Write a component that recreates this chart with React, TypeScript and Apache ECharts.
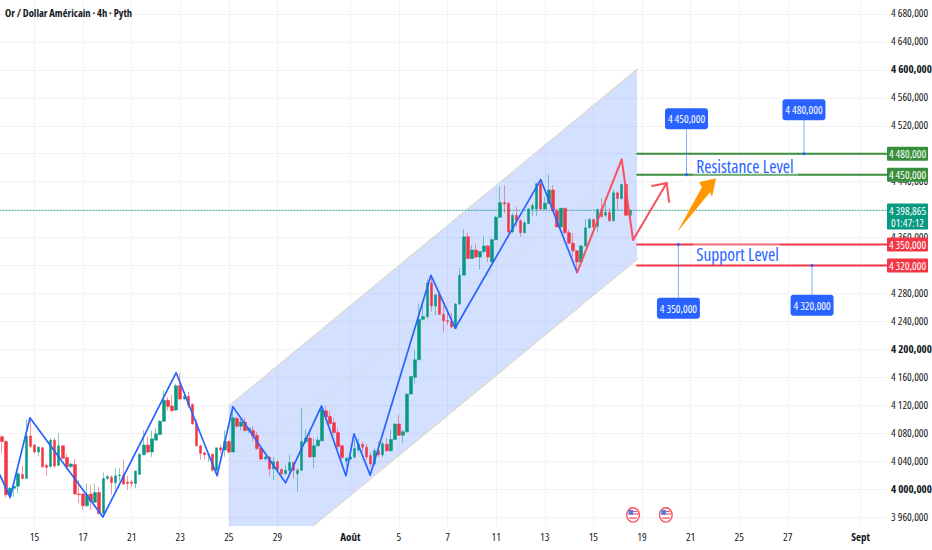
import React, { useEffect, useRef } from "react";
import * as echarts from "echarts";

const FONT = "'Open Sans','Liberation Sans',sans-serif";
const TITLE = "Or / Dollar Américain · 4h · Pyth";
const SLOT_COUNT = 219;

const tickIndexes = [8, 20, 32, 44, 56, 68, 86, 98, 110, 122, 134, 146, 158, 170, 182, 194, 212];
const tickLabels = ["15", "17", "21", "23", "25", "29", "Août", "5", "7", "11", "13", "15", "19", "21", "25", "27", "Sept"];
const priceTicks = [3960, 4000, 4040, 4080, 4120, 4160, 4200, 4240, 4280, 4320, 4360, 4400, 4440, 4480, 4520, 4560, 4600, 4640, 4680];
const priceLabels = [3960, 4000, 4040, 4080, 4120, 4160, 4200, 4240, 4280, 4360, 4440, 4520, 4560, 4600, 4640, 4680];
const boldPrices = [4000, 4200, 4600];

const opens = [4075,4068,3992,4001,4004,4021,4015,4076,4063,4053,4059,4034,4032,4070,4034,4062,4045,4032,4035,3993,3993,3976,3993,3981,3995,3965,4015,4017,4009,4019,4020,4010,4010,4008,4021,4049,4063,4053,4070,4078,4097,4127,4119,4113,4148,4129,4133,4121,4094,4062,4052,4049,4050,4027,4059,4056,4068,4053,4101,4090,4096,4084,4084,4077,4058,4043,4046,4029,4039,4028,4022,4027,4038,4022,4027,4068,4073,4046,4062,4069,4112,4104,4095,4081,4062,4040,4043,4046,4056,4064,4060,4048,4036,4055,4049,4064,4055,4071,4093,4077,4082,4136,4160,4185,4243,4247,4295,4262,4279,4250,4241,4240,4230,4265,4306,4361,4330,4342,4332,4340,4348,4325,4357,4389,4410,4409,4368,4392,4384,4367,4380,4401,4401,4437,4401,4409,4428,4398,4375,4402,4367,4352,4341,4325,4348,4374,4386,4376,4400,4392,4396,4384,4424,4416,4436,4392];
const closes = [4068,3992,4001,4004,4022,4015,4076,4061,4053,4060,4032,4031,4070,4033,4062,4044,4032,4036,3993,3992,3976,3992,3982,3995,3965,4015,4018,4009,4019,4020,4007,4008,4008,4026,4050,4063,4053,4072,4079,4097,4127,4118,4112,4148,4129,4133,4120,4093,4062,4051,4049,4050,4027,4059,4056,4068,4053,4102,4090,4096,4084,4087,4076,4058,4043,4046,4029,4039,4028,4022,4027,4038,4027,4027,4068,4073,4046,4062,4070,4113,4103,4094,4081,4061,4045,4044,4046,4058,4064,4060,4046,4036,4055,4049,4065,4055,4071,4093,4077,4082,4136,4161,4185,4243,4247,4295,4262,4278,4250,4241,4240,4232,4265,4306,4361,4330,4342,4332,4340,4348,4332,4357,4389,4410,4408,4368,4392,4384,4367,4381,4401,4406,4437,4401,4409,4428,4398,4375,4402,4367,4352,4341,4325,4348,4374,4386,4375,4400,4390,4396,4384,4424,4416,4436,4392,4398.865];
const lows = [4051,3988,3987,3989,3994,4014,4015,4058,4051,4047,4030,4019,4032,4030,4033,4043,4027,4030,3992,3980,3970,3974,3970,3980,3964,3965,4013,3992,3999,4011,4006,3999,4003,4001,4020,4049,4051,4046,4070,4077,4096,4112,4111,4112,4127,4127,4116,4092,4061,4042,4042,4039,4025,4020,4051,4046,4051,4053,4088,4084,4082,4080,4068,4056,4041,4041,4019,4013,4025,4020,4020,4020,4015,3996,4026,4065,4045,4030,4061,4068,4099,4092,4077,4058,4042,4032,4042,4043,4053,4053,4042,4032,4034,4046,4046,4053,4053,4070,4076,4066,4081,4135,4151,4185,4242,4244,4254,4249,4249,4224,4235,4230,4229,4263,4306,4329,4329,4330,4314,4337,4325,4325,4356,4388,4395,4359,4367,4375,4361,4366,4379,4391,4391,4398,4400,4408,4397,4375,4375,4365,4351,4333,4313,4324,4347,4373,4368,4368,4389,4389,4383,4383,4400,4414,4391,4391];
const highs = [4077,4070,4003,4008,4025,4034,4099,4099,4065,4061,4061,4037,4073,4073,4080,4063,4051,4037,4043,4013,3994,4008,4006,4008,4003,4024,4020,4020,4030,4030,4042,4019,4013,4026,4051,4084,4075,4084,4087,4099,4142,4132,4135,4151,4166,4139,4139,4123,4100,4063,4053,4051,4051,4059,4064,4084,4070,4118,4104,4100,4103,4089,4090,4082,4061,4047,4047,4046,4042,4030,4034,4049,4039,4030,4116,4085,4085,4073,4075,4120,4118,4112,4101,4087,4063,4046,4056,4070,4073,4068,4065,4053,4058,4068,4068,4073,4085,4094,4106,4085,4136,4161,4199,4266,4266,4300,4304,4278,4282,4263,4252,4252,4266,4316,4372,4367,4349,4351,4340,4362,4349,4359,4391,4433,4435,4411,4395,4404,4386,4383,4402,4409,4438,4440,4418,4450,4435,4402,4402,4402,4371,4366,4342,4349,4386,4387,4387,4402,4416,4409,4402,4429,4426,4437,4437,4400];

const currentPrice = 4398.865;
const currentPriceLabel = "4 398,865";
const countdownLabel = "01:47:12";

const blueZigzag = [[-0.5,4020],[2,3988],[6.9,4102],[24.9,3960],[43,4166.5],[53.1,4019],[57,4118],[70,4009],[78.9,4119],[84.9,4019],[86.9,4079],[90.9,4020],[105.9,4306],[111.9,4230.5],[133,4443],[142,4310]];
const redZigzag = [[142,4310],[153,4472],[155.8,4356.4],[164.1,4438]];
const redArrowHead = [[160.5,4433.7],[164.1,4438],[164.7,4411]];
const orangeArrow = [[166.7,4368],[172.8,4432],[172.1,4439],[176.3,4445],[175.3,4418],[174.8,4425]];
const channelArea = [[56,4119],[156.8,4601],[156.8,4329],[76.8,3947],[56,3947]];
const channelTopEdge = [[56,4119],[156.8,4601]];
const channelBottomEdge = [[156.8,4329],[76.8,3947]];
const channelMiddle = [[56,4033],[156.8,4465]];

const resistanceLevels = [4480, 4450];
const supportLevels = [4350, 4320];
const levelStartBar = 156.8;
const levelEndBar = 218.5;
const calloutPrices = [4450, 4480, 4350, 4320];
const calloutBars = [169, 198, 167, 200];
const calloutEnds = [4515, 4528, 4274, 4278];
const eventBars = [155.8, 163.9];
const eventPrice = 3963;

const GREEN = "#089981";
const RED = "#F23645";
const BLUE = "#2962FF";
const fmt = (v: number) => `${Math.floor(v / 1000)} ${String(Math.round(v % 1000)).padStart(3, "0")},000`;

const categories = Array.from({ length: SLOT_COUNT }, (_, i) => {
  const k = tickIndexes.indexOf(i);
  return k >= 0 ? tickLabels[k] : "";
});
const candles = opens.map((o, i) => [o, closes[i], lows[i], highs[i]]);

const shapeSeries = (z: number, build: (api: any) => any) => ({
  type: "custom",
  xAxisIndex: 1,
  yAxisIndex: 0,
  z,
  silent: true,
  clip: false,
  data: [[0, 0]],
  encode: { x: 0, y: 1 },
  renderItem: (_: any, api: any) => build(api),
});
const pts = (api: any, list: number[][]) => list.map((p) => api.coord(p));
const lineSeries = (data: number[][], color: string, width: number, z: number, type: any = "solid", opacity = 1) => ({
  type: "line",
  xAxisIndex: 1,
  yAxisIndex: 0,
  data,
  symbol: "none",
  silent: true,
  z,
  lineStyle: { color, width, type, opacity, cap: "round", join: "round" },
});

const priceTag = (api: any, price: number, color: string, text: string) => {
  const y = api.coord([0, price])[1];
  return [
    { type: "rect", shape: { x: 887, y: y - 7, width: 41, height: 14, r: 1 }, style: { fill: color } },
    { type: "text", style: { x: 907.5, y, text, fill: "#fff", font: `11px ${FONT}`, align: "center", verticalAlign: "middle" } },
  ];
};

const option: any = {
  animation: false,
  backgroundColor: "#ffffff",
  title: { text: TITLE, left: 5, top: 7, padding: 0, textStyle: { color: "#131722", fontFamily: FONT, fontSize: 10.5, fontWeight: "bold" } },
  grid: { left: 0, top: 0, width: 887, height: 527, outerBoundsMode: "none" },
  xAxis: [
    {
      type: "category",
      data: categories,
      axisLine: { show: false },
      axisTick: { show: false, alignWithLabel: true },
      splitLine: { show: false },
      axisLabel: {
        interval: (_: number, v: string) => v !== "",
        color: "#131722",
        fontFamily: FONT,
        fontSize: 11,
        margin: 4,
        hideOverlap: false,
        formatter: (v: string) => (v === "Août" || v === "Sept" ? `{b|${v}}` : v),
        rich: { b: { fontFamily: FONT, fontSize: 11, fontWeight: "bold", color: "#131722" } },
      },
    },
    {
      type: "value",
      min: -0.5,
      max: SLOT_COUNT - 0.5,
      axisLine: { show: false },
      axisTick: { show: false, customValues: tickIndexes },
      axisLabel: { show: false, customValues: tickIndexes },
      splitLine: { show: true, lineStyle: { color: "#F2F3F6", width: 1 } },
    },
  ],
  yAxis: {
    type: "value",
    position: "right",
    min: 3945.7,
    max: 4700,
    axisLine: { show: false },
    axisTick: { show: false, customValues: priceTicks },
    splitLine: { show: true, lineStyle: { color: "#F2F3F6", width: 1 } },
    axisLabel: {
      customValues: priceLabels,
      color: "#131722",
      fontFamily: FONT,
      fontSize: 11,
      margin: 4,
      padding: [0, 0, 2, 0],
      formatter: (v: number) => (boldPrices.includes(v) ? `{b|${fmt(v)}}` : fmt(v)),
      rich: { b: { fontFamily: FONT, fontSize: 11, fontWeight: "bold", color: "#131722" } },
    },
  },
  series: [
    shapeSeries(1, (api) => ({
      type: "polygon",
      shape: { points: pts(api, channelArea) },
      style: { fill: "rgba(41,98,255,0.2)" },
    })),
    lineSeries(channelTopEdge, "#DDD9D0", 1.2, 1),
    lineSeries(channelBottomEdge, "#DDD9D0", 1.2, 1),
    lineSeries(channelMiddle, "#D8D4CC", 1, 1, "dotted", 0.8),
    {
      type: "candlestick",
      xAxisIndex: 0,
      yAxisIndex: 0,
      data: candles,
      barWidth: 3,
      z: 2,
      silent: true,
      itemStyle: {
        color: GREEN,
        color0: RED,
        borderColor: "rgba(8,153,129,0.5)",
        borderColor0: "rgba(242,54,69,0.5)",
        borderWidth: 1,
      },
    },
    lineSeries([[-0.5, currentPrice], [SLOT_COUNT - 0.5, currentPrice]], GREEN, 1, 2, [1, 2], 0.8),
    lineSeries(blueZigzag, BLUE, 1.7, 3),
    lineSeries(redZigzag, "#F7525F", 2, 3),
    lineSeries(redArrowHead, "#F7525F", 2, 3),
    ...resistanceLevels.map((p) => lineSeries([[levelStartBar, p], [levelEndBar, p]], "#388E3C", 2, 3)),
    ...supportLevels.map((p) => lineSeries([[levelStartBar, p], [levelEndBar, p]], RED, 2, 3)),
    shapeSeries(4, (api) => ({
      type: "polygon",
      shape: { points: pts(api, orangeArrow) },
      style: { fill: "#FF9800" },
    })),
    shapeSeries(5, (api) => ({
      type: "group",
      children: [
        ...[[171.4, 4463, "Resistance Level", 105], [171.4, 4337, "Support Level", 87]].flatMap(([b, p, t, w]: any) => {
          const [x, y] = api.coord([b, p]);
          return [
            { type: "rect", shape: { x: x - 3, y: y - 10, width: w, height: 20 }, style: { fill: "rgba(255,255,255,0.3)" } },
            { type: "text", style: { x, y, text: t, fill: BLUE, font: `17.5px ${FONT}`, align: "left", verticalAlign: "middle" } },
          ];
        }),
      ],
    })),
    shapeSeries(6, (api) => ({
      type: "group",
      children: calloutPrices.flatMap((price, i) => {
        const [x, y0] = api.coord([calloutBars[i], price]);
        const y1 = api.coord([calloutBars[i], calloutEnds[i]])[1];
        const boxY = y1 < y0 ? y1 - 21 : y1;
        return [
          { type: "line", shape: { x1: x, y1: y0, x2: x, y2: y1 }, style: { stroke: "rgba(41,98,255,0.55)", lineWidth: 1 } },
          { type: "circle", shape: { cx: x, cy: y0, r: 1.5 }, style: { fill: BLUE } },
          { type: "rect", shape: { x: x - 21.5, y: boxY, width: 43, height: 21, r: 3 }, style: { fill: BLUE } },
          { type: "text", style: { x, y: boxY + 10.5, text: fmt(price), fill: "#fff", font: `11px ${FONT}`, align: "center", verticalAlign: "middle" } },
        ];
      }),
    })),
    shapeSeries(7, (api) => ({
      type: "group",
      children: eventBars.flatMap((bar) => {
        const [x, y] = api.coord([bar, eventPrice]);
        return [
          { type: "ellipse", shape: { cx: x, cy: y, rx: 6.3, ry: 7.2 }, style: { fill: "#fff", stroke: "#F7525F", lineWidth: 1.4 } },
          { type: "rect", shape: { x: x - 4.5, y: y - 5, width: 4.5, height: 5 }, style: { fill: "#4E7DE8" } },
          { type: "rect", shape: { x: x, y: y - 4, width: 4.5, height: 1.2 }, style: { fill: "#F7525F" } },
          { type: "rect", shape: { x: x, y: y - 1.5, width: 5, height: 1.2 }, style: { fill: "#F7525F" } },
          { type: "rect", shape: { x: x - 4, y: y + 2.5, width: 8, height: 1.3 }, style: { fill: "#F7525F" } },
        ];
      }),
    })),
    shapeSeries(8, (api) => ({
      type: "group",
      children: [
        ...resistanceLevels.flatMap((p) => priceTag(api, p, "#388E3C", fmt(p))),
        ...supportLevels.flatMap((p) => priceTag(api, p, RED, fmt(p))),
        (() => {
          const y = api.coord([0, currentPrice])[1];
          return {
            type: "group",
            children: [
              { type: "rect", shape: { x: 887, y: y - 7, width: 41, height: 26, r: 1 }, style: { fill: GREEN } },
              { type: "text", style: { x: 907.5, y: y, text: currentPriceLabel, fill: "#fff", font: `11px ${FONT}`, align: "center", verticalAlign: "middle" } },
              { type: "text", style: { x: 907.5, y: y + 12, text: countdownLabel, fill: "#fff", font: `11px ${FONT}`, align: "center", verticalAlign: "middle" } },
            ],
          };
        })(),
      ],
    })),
  ],
};

export default function App() {
  const ref = useRef<HTMLDivElement>(null);
  useEffect(() => {
    document.body.style.margin = "0";
    const chart = echarts.init(ref.current!, undefined, { renderer: "svg" });
    chart.setOption(option);
    return () => chart.dispose();
  }, []);
  return (
    <>
      <style>{`svg text { font-stretch: 75% !important; }`}</style>
      <div ref={ref} style={{ width: 932, height: 550 }} />
    </>
  );
}
